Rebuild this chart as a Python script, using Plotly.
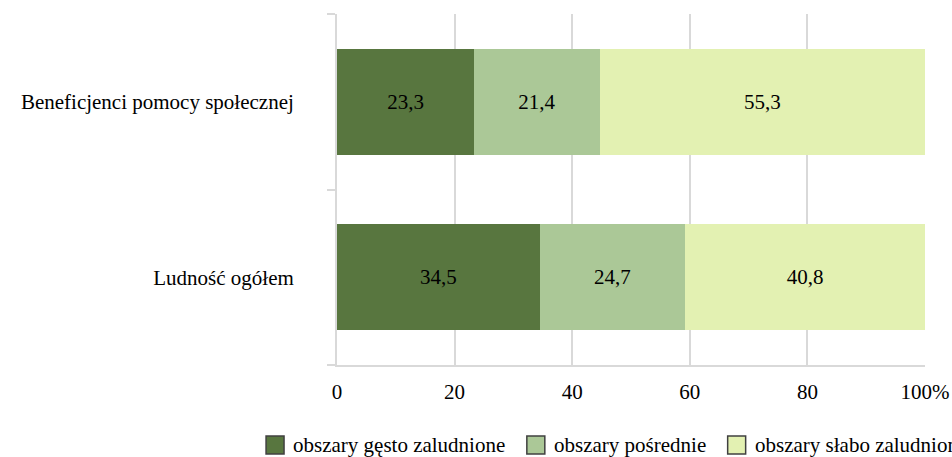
import plotly.graph_objects as go

categories = ['Ludność ogółem', 'Beneficjenci pomocy społecznej']
series_names = ['obszary gęsto zaludnione', 'obszary pośrednie', 'obszary słabo zaludnione']
gesto = [34.5, 23.3]
posrednie = [24.7, 21.4]
slabo = [40.8, 55.3]
tick_vals = [0, 20, 40, 60, 80, 100]
tick_text = ['0', '20', '40', '60', '80', '100%']

colors = ['#58763F', '#ABC897', '#E3F1B2']
font_name = '"Times New Roman", "Liberation Serif", "DejaVu Serif", serif'
grid_col = '#D9D9D9'

fig = go.Figure()
for name, vals, col in zip(series_names, [gesto, posrednie, slabo], colors):
    fig.add_trace(go.Bar(
        y=categories, x=vals, name=name, orientation='h',
        marker=dict(color=col, line=dict(width=0)),
        texttemplate='%{x:.1f}', textposition='inside', insidetextanchor='middle',
        textfont=dict(family=font_name, size=21, color='black'),
        showlegend=False,
    ))

# hand-made legend along the bottom (runs off the right edge like the original)
legend_x = [266, 527, 728]
shapes = []
annotations = []
for name, col, x0 in zip(series_names, colors, legend_x):
    shapes.append(dict(type='rect', xref='paper', yref='paper',
                       x0=(x0 - 337) / 588.5, x1=(x0 + 18 - 337) / 588.5,
                       y0=-(436 - 365) / 351, y1=-(454 - 365) / 351,
                       fillcolor=col, line=dict(color='#404040', width=1.5)))
    annotations.append(dict(text=name, xref='paper', yref='paper',
                            x=(x0 + 25 - 337) / 588.5, y=-(445 - 365) / 351,
                            xanchor='left', yanchor='middle', showarrow=False,
                            font=dict(family=font_name, size=21, color='black')))

fig.update_layout(
    barmode='stack', bargap=0.395,
    width=952, height=457,
    margin=dict(l=337, r=27, t=14, b=92),
    paper_bgcolor='white', plot_bgcolor='white',
    separators=', ',
    font=dict(family=font_name, size=21, color='black'),
    shapes=shapes, annotations=annotations,
    uniformtext=dict(minsize=21, mode='show'),
)
fig.update_xaxes(range=[0, 100], tickvals=tick_vals, ticktext=tick_text,
                 showgrid=True, gridcolor=grid_col, gridwidth=2,
                 showline=True, linecolor=grid_col, linewidth=2,
                 zeroline=False, ticks='', ticklabelstandoff=7,
                 fixedrange=True, automargin=False)
fig.update_yaxes(showgrid=False, showline=True, linecolor=grid_col, linewidth=2,
                 ticks='outside', tickson='boundaries', ticklen=8,
                 tickcolor=grid_col, tickwidth=2, ticklabelstandoff=37,
                 categoryorder='array', categoryarray=categories,
                 automargin=False, fixedrange=True)

# drop the default 8px body margin so the figure sits at the page corner
fig.write_html('out.html', config={'displayModeBar': False},
               post_script="document.body.style.margin='0';")
